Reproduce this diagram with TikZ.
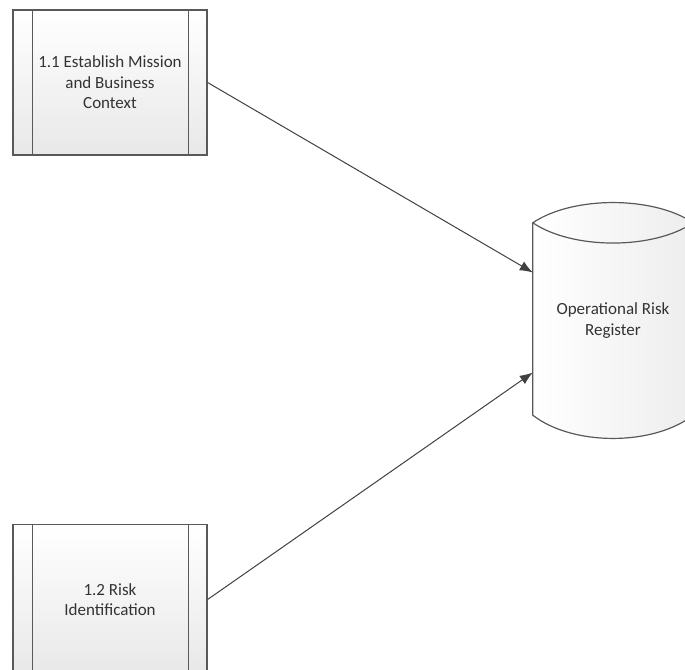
\documentclass[tikz,border=0pt]{standalone}
\usepackage{fontspec}
\setmainfont{Carlito}
\usetikzlibrary{arrows.meta,positioning,calc,backgrounds}
\definecolor{linegray}{HTML}{595959}
\definecolor{arrowgray}{HTML}{404040}

\begin{document}
\begin{tikzpicture}[
    x=1pt, y=-1pt,
    proc/.style={draw=linegray, line width=1.2pt, rectangle, minimum width=194pt, minimum height=145pt, align=center, top color=white, bottom color=gray!18, text=black!80, font=\fontsize{17}{20.5}\selectfont},
    store/.style={rectangle, minimum width=160pt, minimum height=235pt, align=center, text=black!80, font=\fontsize{17}{20.5}\selectfont},
    arrow/.style={-{Latex[length=13pt,width=10pt]}, draw=arrowgray, line width=1pt}
]
    \useasboundingbox (0,0) rectangle (685,669);
    \node[proc] (mission) at (110,82.5) {1.1 Establish Mission\\and Business\\Context};
    \node[proc, minimum height=150pt] (riskid) at (110,599.5) {1.2 Risk\\Identification};
    \foreach \p in {mission,riskid} {
        \draw[linegray, line width=1.2pt] ([xshift=20pt]\p.north west) -- ([xshift=20pt]\p.south west);
        \draw[linegray, line width=1.2pt] ([xshift=-19pt]\p.north east) -- ([xshift=-19pt]\p.south east);
    }

    \node[store] (reg) at (613,320.5) {Operational Risk\\Register};
    \coordinate (captl) at ($(reg.north west)+(0,20)$);
    \coordinate (captr) at ($(reg.north east)+(0,20)$);
    \coordinate (botl) at ($(reg.south west)+(0,-23)$);
    \coordinate (botr) at ($(reg.south east)+(0,-23)$);
    \begin{scope}[on background layer]
        \path[draw=linegray, line width=1.2pt, left color=white, right color=gray!14]
            (captl) .. controls +(40,-27) and +(-40,-27) .. (captr) -- (botr)
            .. controls +(-40,31) and +(40,31) .. (botl) -- cycle;
        \draw[linegray, line width=1.2pt] (captl) .. controls +(40,27) and +(-40,27) .. (captr);
    \end{scope}

    \draw[arrow] (mission.east) -- ($(reg.west)+(0,-48)$);
    \draw[arrow] (riskid.east) -- ($(reg.west)+(0,52)$);
\end{tikzpicture}
\end{document}
